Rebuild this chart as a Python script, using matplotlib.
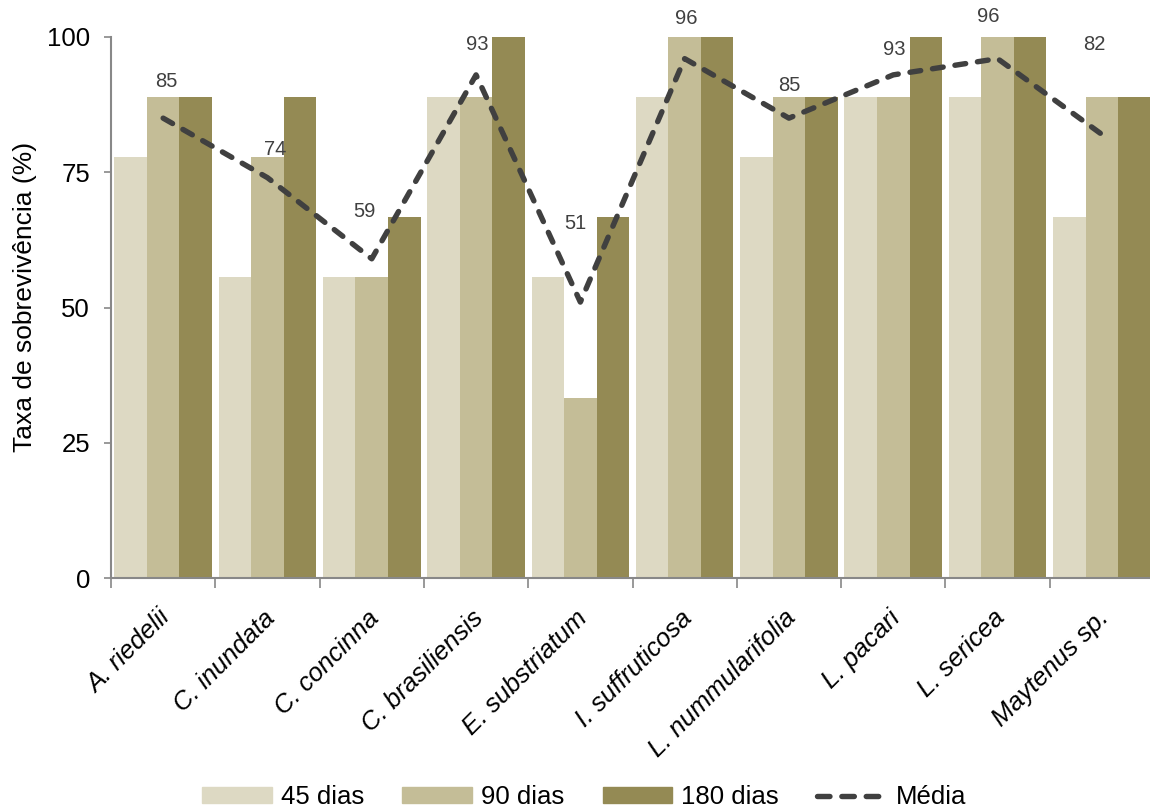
import numpy as np
import matplotlib
matplotlib.use("Agg")
import matplotlib.pyplot as plt
import matplotlib.transforms as mtransforms
from matplotlib.lines import Line2D
from matplotlib.patches import Patch

plt.rcParams['font.family'] = ['Liberation Sans', 'DejaVu Sans']

especies = ["A. riedelii", "C. inundata", "C. concinna", "C. brasiliensis",
            "E. substriatum", "I. suffruticosa", "L. nummularifolia",
            "L. pacari", "L. sericea", "Maytenus sp."]
dias45 = [77.8, 55.6, 55.6, 88.9, 55.6, 88.9, 77.8, 88.9, 88.9, 66.7]
dias90 = [88.9, 77.8, 55.6, 88.9, 33.3, 100, 88.9, 88.9, 100, 88.9]
dias180 = [88.9, 88.9, 66.7, 100, 66.7, 100, 88.9, 100, 100, 88.9]
media = [85, 74, 59, 93, 51, 96, 85, 93, 96, 82]

# label offsets in pixels (the labels were nudged by hand)
lab_dx = [3, 8, -7, 1, -5, 2, 0, 1, -9, -8]
lab_dy = [37, 28, 47, 30, 79, 40, 33, 25, 42, 90]

c45 = "#ddd9c3"
c90 = "#c4bd97"
c180 = "#948a54"
cline = "#404040"
cax = "#888888"

fig = plt.figure(figsize=(11.5, 8.11), dpi=100)
ax = fig.add_axes([111/1150, 1 - 578/811, 1043/1150, 541/811])

x = np.arange(len(especies))
w = 0.312
ax.bar(x - w, dias45, w, color=c45, label="45 dias")
ax.bar(x, dias90, w, color=c90, label="90 dias")
ax.bar(x + w, dias180, w, color=c180, label="180 dias")

ax.plot(x, media, color=cline, lw=3.9, dashes=(2.0, 2.2),
        dash_capstyle='round', solid_capstyle='round', label="Média", zorder=5)

for i, m in enumerate(media):
    ax.annotate(str(m), (x[i], m), xytext=(lab_dx[i], lab_dy[i]),
                textcoords='offset pixels', ha='center', va='center',
                fontsize=14.5, color=cline)

ax.set_xlim(-0.5, len(especies) - 0.5)
ax.set_ylim(0, 100)
ax.set_yticks([0, 25, 50, 75, 100])
ax.tick_params(axis='y', labelsize=18.5, length=5, width=1.2, color=cax, pad=10)

ax.set_xticks(np.arange(len(especies) + 1) - 0.5)
ax.set_xticklabels([])
ax.set_xticks(x, minor=True)
ax.set_xticklabels(especies, minor=True, rotation=45, ha='right', va='top',
                   rotation_mode='anchor', fontsize=18.5, style='italic')
ax.tick_params(axis='x', which='major', length=7, width=1.2, color=cax)
ax.tick_params(axis='x', which='minor', length=0, pad=20)
shift = mtransforms.ScaledTranslation(-5/100, 0, fig.dpi_scale_trans)
for lbl in ax.get_xticklabels(minor=True):
    lbl.set_transform(lbl.get_transform() + shift)

for s in ['top', 'right']:
    ax.spines[s].set_visible(False)
for s in ['left', 'bottom']:
    ax.spines[s].set_color(cax)
    ax.spines[s].set_linewidth(1.5)

ax.set_ylabel("Taxa de sobrevivência (%)", fontsize=19)
ax.yaxis.set_label_coords(-0.071, 0.52)

# legend: three dashes for the mean line
handles = [Patch(color=c45), Patch(color=c90), Patch(color=c180),
           Line2D([0], [0], color=cline, lw=3.9, dashes=(2.3, 2.2),
                  dash_capstyle='round')]
fig.legend(handles, ["45 dias", "90 dias", "180 dias", "Média"], ncol=4,
           loc='center', bbox_to_anchor=(584/1150, 1 - 797/811), frameon=False,
           fontsize=18.5, handlelength=2.7, handleheight=0.55,
           handletextpad=0.35, columnspacing=1.5)

fig.savefig("out.png", dpi=100)
